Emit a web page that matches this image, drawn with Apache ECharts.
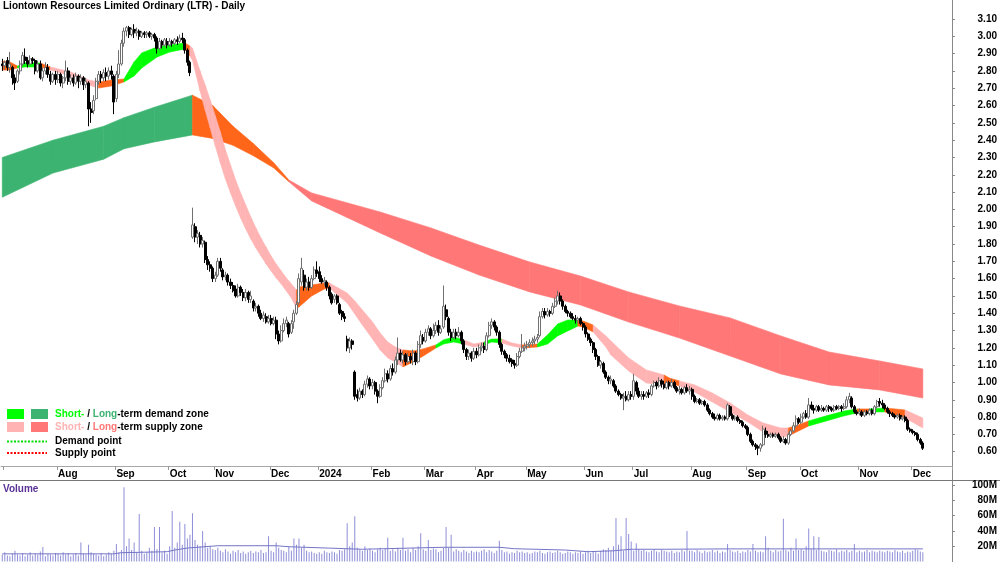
<!DOCTYPE html>
<html><head><meta charset="utf-8">
<script src="https://cdn.jsdelivr.net/npm/echarts/dist/echarts.min.js"></script>
<style>html,body{margin:0;padding:0;background:#fff}#c{width:1000px;height:562px}</style>
</head><body><div id="c"></div>
<script>
// ---------- data ----------
const monthKeys   = ['2023-06','2023-07','2023-08','2023-09','2023-10','2023-11','2023-12','2024-01','2024-02','2024-03','2024-04','2024-05','2024-06','2024-07','2024-08','2024-09','2024-10','2024-11','2024-12'];
const monthLabels = ['Jun','Jul','Aug','Sep','Oct','Nov','Dec','2024','Feb','Mar','Apr','May','Jun','Jul','Aug','Sep','Oct','Nov','Dec'];
const monthTradingDays = [1,21,23,21,18,22,19,21,21,20,20,23,19,23,22,21,23,21,5];
const emptyTrailingDays = 11;
const priceTicks = {min:0.5, max:3.2, step:0.1};
const volumeTicks = {min:0, max:100, step:20};

// [open, close, low, high]
const ohlc = [
// Jun 2023
[2.84,2.83,2.80,2.87],
// Jul 2023
[2.83,2.85,2.81,2.86],[2.86,2.82,2.80,2.88],[2.82,2.84,2.79,2.91],[2.82,2.76,2.72,2.83],[2.76,2.73,2.69,2.78],
[2.74,2.80,2.73,2.81],[2.80,2.84,2.78,2.86],[2.84,2.89,2.83,2.91],[2.88,2.86,2.84,2.93],[2.86,2.84,2.82,2.88],
[2.84,2.87,2.83,2.89],[2.87,2.86,2.84,2.88],[2.86,2.80,2.78,2.87],[2.80,2.84,2.79,2.86],[2.84,2.76,2.75,2.86],
[2.76,2.80,2.74,2.82],[2.80,2.82,2.78,2.85],[2.82,2.78,2.76,2.84],[2.78,2.74,2.72,2.80],[2.74,2.78,2.73,2.79],
[2.78,2.75,2.72,2.80],
// Aug 2023
[2.75,2.78,2.73,2.80],[2.78,2.73,2.71,2.79],[2.73,2.76,2.70,2.77],[2.76,2.80,2.74,2.86],[2.80,2.74,2.72,2.82],
[2.74,2.76,2.72,2.78],[2.76,2.73,2.71,2.78],[2.73,2.77,2.72,2.79],[2.77,2.74,2.70,2.78],[2.74,2.76,2.72,2.78],
[2.76,2.72,2.69,2.77],[2.72,2.74,2.70,2.76],[2.73,2.58,2.48,2.74],[2.58,2.56,2.50,2.62],[2.57,2.63,2.55,2.66],
[2.64,2.74,2.63,2.76],[2.74,2.78,2.72,2.80],[2.78,2.76,2.73,2.80],[2.76,2.79,2.74,2.81],[2.79,2.77,2.74,2.82],
[2.77,2.80,2.75,2.82],[2.80,2.78,2.75,2.83],[2.77,2.62,2.55,2.78],
// Sep 2023
[2.64,2.78,2.62,2.80],[2.78,2.84,2.76,2.92],[2.84,2.96,2.83,2.98],[2.96,3.03,2.94,3.05],[3.03,3.05,3.00,3.06],
[3.05,3.01,2.99,3.06],[3.01,3.04,3.00,3.05],[3.04,3.02,2.99,3.07],[3.02,3.03,3.00,3.05],[3.03,3.00,2.98,3.04],
[3.00,3.02,2.99,3.03],[3.02,3.01,2.99,3.03],[3.01,3.02,2.99,3.03],[3.02,3.00,2.99,3.03],[3.00,3.01,2.98,3.02],
[3.01,2.99,2.97,3.02],[2.99,2.93,2.90,3.00],[2.93,2.97,2.92,2.99],[2.97,2.95,2.93,2.98],[2.95,2.98,2.94,2.99],
[2.97,2.95,2.93,2.99],
// Oct 2023
[2.95,2.97,2.94,2.99],[2.97,2.96,2.94,2.98],[2.96,2.98,2.95,2.99],[2.98,2.97,2.95,3.00],[2.97,2.99,2.96,3.01],
[2.99,2.98,2.96,3.02],[2.98,2.92,2.90,2.99],[2.92,2.85,2.83,2.93],[2.85,2.79,2.77,2.86],
[1.84,1.91,1.83,2.01],[1.90,1.84,1.81,1.92],[1.84,1.86,1.80,1.88],[1.85,1.80,1.78,1.87],[1.80,1.82,1.78,1.84],
[1.81,1.71,1.69,1.82],[1.71,1.68,1.65,1.73],[1.68,1.66,1.64,1.70],[1.66,1.60,1.58,1.67],
// Nov 2023
[1.60,1.62,1.58,1.64],[1.62,1.70,1.61,1.72],[1.70,1.66,1.64,1.72],[1.65,1.61,1.59,1.66],[1.61,1.62,1.59,1.64],
[1.62,1.58,1.56,1.63],[1.58,1.56,1.54,1.60],[1.56,1.53,1.52,1.58],[1.54,1.50,1.49,1.56],[1.50,1.55,1.49,1.57],
[1.55,1.52,1.50,1.56],[1.52,1.49,1.47,1.54],[1.49,1.52,1.47,1.54],[1.52,1.48,1.46,1.53],[1.48,1.50,1.46,1.53],
[1.47,1.43,1.41,1.48],[1.43,1.44,1.41,1.46],[1.44,1.40,1.38,1.45],[1.40,1.37,1.36,1.42],[1.37,1.39,1.35,1.41],
[1.38,1.35,1.34,1.40],[1.35,1.37,1.34,1.39],
// Dec 2023
[1.37,1.34,1.33,1.39],[1.34,1.36,1.33,1.38],[1.36,1.28,1.25,1.38],[1.28,1.24,1.22,1.30],[1.24,1.30,1.23,1.33],
[1.30,1.34,1.29,1.37],[1.34,1.36,1.32,1.38],[1.34,1.28,1.26,1.35],[1.29,1.34,1.28,1.36],[1.35,1.40,1.31,1.42],
[1.40,1.45,1.39,1.47],[1.46,1.60,1.45,1.63],[1.58,1.66,1.56,1.72],[1.62,1.55,1.53,1.65],[1.55,1.58,1.53,1.60],
[1.58,1.55,1.53,1.61],[1.55,1.60,1.54,1.62],[1.60,1.65,1.59,1.67],[1.65,1.63,1.61,1.70],
// Jan 2024
[1.64,1.60,1.58,1.67],[1.60,1.58,1.57,1.62],[1.58,1.59,1.56,1.61],[1.58,1.55,1.53,1.59],[1.55,1.50,1.48,1.56],
[1.51,1.46,1.45,1.52],[1.48,1.50,1.46,1.51],[1.50,1.46,1.45,1.51],[1.45,1.40,1.39,1.46],[1.41,1.38,1.36,1.42],
[1.38,1.37,1.35,1.40],[1.25,1.20,1.18,1.27],[1.20,1.24,1.17,1.26],[1.24,1.22,1.19,1.25],[1.06,0.92,0.90,1.07],
[0.93,0.91,0.89,0.96],[0.91,0.95,0.90,0.97],[0.95,0.93,0.91,0.96],[0.93,0.99,0.92,1.01],[0.99,1.02,0.97,1.04],
[1.02,0.98,0.96,1.03],
// Feb 2024
[0.98,1.00,0.96,1.02],[1.00,0.95,0.93,1.01],[0.95,0.92,0.88,0.96],[0.92,0.97,0.91,0.99],[0.97,1.01,0.96,1.03],
[1.01,1.05,1.00,1.08],[1.05,1.02,1.00,1.07],[1.02,1.08,1.01,1.10],[1.08,1.06,1.04,1.11],[1.06,1.13,1.05,1.15],
[1.13,1.17,1.10,1.26],[1.17,1.13,1.12,1.19],[1.13,1.16,1.11,1.18],[1.16,1.12,1.10,1.17],[1.12,1.15,1.11,1.17],
[1.15,1.13,1.11,1.17],[1.12,1.17,1.10,1.19],[1.17,1.12,1.10,1.18],[1.12,1.22,1.11,1.24],[1.22,1.27,1.20,1.30],
[1.26,1.24,1.22,1.28],
// Mar 2024
[1.24,1.29,1.23,1.31],[1.29,1.31,1.27,1.33],[1.31,1.27,1.25,1.32],[1.27,1.30,1.26,1.34],[1.30,1.33,1.28,1.35],
[1.33,1.29,1.27,1.36],[1.29,1.31,1.28,1.33],[1.32,1.44,1.31,1.56],[1.42,1.38,1.36,1.45],[1.37,1.29,1.27,1.38],
[1.29,1.26,1.24,1.31],[1.26,1.29,1.25,1.31],[1.29,1.27,1.25,1.31],[1.27,1.29,1.26,1.32],[1.29,1.24,1.22,1.30],
[1.24,1.19,1.17,1.25],[1.19,1.15,1.13,1.20],[1.15,1.17,1.13,1.19],[1.17,1.14,1.12,1.18],[1.14,1.18,1.13,1.20],
// Apr 2024
[1.18,1.16,1.14,1.20],[1.16,1.20,1.15,1.22],[1.20,1.21,1.18,1.23],[1.21,1.19,1.17,1.23],[1.19,1.27,1.18,1.29],
[1.27,1.33,1.26,1.35],[1.33,1.35,1.31,1.37],[1.35,1.32,1.30,1.36],[1.32,1.29,1.27,1.33],[1.29,1.22,1.20,1.30],
[1.22,1.18,1.16,1.23],[1.18,1.16,1.14,1.19],[1.16,1.14,1.12,1.17],[1.14,1.12,1.11,1.16],[1.13,1.11,1.09,1.14],
[1.11,1.10,1.08,1.13],[1.10,1.15,1.09,1.17],[1.15,1.18,1.14,1.20],[1.18,1.20,1.17,1.28],[1.20,1.21,1.18,1.23],
// May 2024
[1.21,1.22,1.19,1.24],[1.22,1.23,1.20,1.25],[1.23,1.24,1.21,1.26],[1.24,1.25,1.22,1.27],[1.25,1.26,1.23,1.28],
[1.27,1.38,1.26,1.41],[1.38,1.41,1.37,1.43],[1.41,1.39,1.37,1.43],[1.39,1.41,1.38,1.43],[1.41,1.40,1.38,1.42],
[1.40,1.44,1.39,1.46],[1.44,1.47,1.43,1.49],[1.47,1.50,1.45,1.53],[1.50,1.47,1.45,1.52],[1.47,1.44,1.42,1.48],
[1.44,1.41,1.40,1.45],[1.41,1.40,1.38,1.42],[1.40,1.38,1.37,1.41],[1.38,1.37,1.36,1.40],[1.37,1.36,1.34,1.39],
[1.36,1.37,1.34,1.38],[1.37,1.34,1.33,1.38],[1.34,1.32,1.30,1.35],
// Jun 2024
[1.32,1.28,1.26,1.33],[1.28,1.25,1.24,1.29],[1.25,1.23,1.21,1.26],[1.23,1.19,1.17,1.24],[1.19,1.15,1.13,1.20],
[1.15,1.10,1.09,1.16],[1.10,1.12,1.08,1.13],[1.11,1.06,1.05,1.12],[1.06,1.03,1.02,1.07],[1.03,1.01,0.99,1.04],
[1.01,1.02,0.99,1.04],[1.01,0.98,0.97,1.02],[0.98,0.95,0.94,0.99],[0.95,0.93,0.92,0.96],[0.93,0.91,0.90,0.94],
[0.91,0.92,0.84,0.94],[0.92,0.90,0.89,0.95],[0.90,0.93,0.89,0.95],[0.93,0.92,0.90,0.95],
// Jul 2024
[0.92,1.01,0.90,1.05],[1.00,0.95,0.93,1.01],[0.95,0.92,0.91,0.97],[0.92,0.93,0.90,0.95],[0.93,0.92,0.90,0.95],
[0.92,0.94,0.91,0.95],[0.94,0.93,0.91,0.96],[0.93,0.98,0.92,0.99],[0.98,1.00,0.97,1.01],[1.00,0.98,0.96,1.01],
[0.98,1.01,0.97,1.03],[1.01,0.99,0.97,1.02],[0.99,0.97,0.96,1.01],[0.97,1.00,0.96,1.01],[1.00,0.98,0.96,1.01],
[0.98,1.00,0.97,1.02],[1.00,0.97,0.96,1.01],[0.97,0.95,0.94,0.98],[0.95,0.96,0.93,0.98],[0.96,0.94,0.93,0.97],
[0.94,0.97,0.93,0.98],[0.97,0.95,0.94,0.99],[0.95,0.96,0.93,0.98],
// Aug 2024
[0.96,0.92,0.90,0.97],[0.92,0.89,0.88,0.93],[0.89,0.90,0.88,0.91],[0.90,0.88,0.87,0.91],[0.88,0.89,0.87,0.90],
[0.89,0.87,0.86,0.90],[0.87,0.84,0.83,0.88],[0.84,0.82,0.81,0.85],[0.82,0.80,0.79,0.83],[0.80,0.79,0.78,0.82],
[0.79,0.81,0.78,0.82],[0.81,0.79,0.78,0.82],[0.79,0.80,0.78,0.81],[0.80,0.79,0.78,0.81],[0.79,0.87,0.78,0.88],
[0.86,0.81,0.80,0.87],[0.81,0.79,0.78,0.82],[0.79,0.80,0.78,0.81],[0.80,0.78,0.77,0.81],[0.78,0.77,0.76,0.79],
[0.77,0.75,0.74,0.78],[0.75,0.74,0.73,0.76],
// Sep 2024
[0.74,0.70,0.69,0.75],[0.70,0.66,0.65,0.71],[0.66,0.64,0.63,0.67],[0.64,0.63,0.61,0.65],[0.63,0.62,0.58,0.64],
[0.62,0.64,0.60,0.65],[0.64,0.73,0.63,0.75],[0.72,0.70,0.68,0.74],[0.70,0.69,0.68,0.72],[0.69,0.70,0.68,0.71],
[0.70,0.69,0.68,0.71],[0.69,0.70,0.68,0.71],[0.70,0.68,0.67,0.71],[0.68,0.66,0.65,0.69],[0.66,0.67,0.65,0.69],
[0.67,0.65,0.64,0.68],[0.65,0.70,0.64,0.71],[0.70,0.72,0.69,0.73],[0.72,0.75,0.71,0.77],[0.75,0.79,0.74,0.81],
[0.79,0.77,0.76,0.80],
// Oct 2024
[0.77,0.80,0.76,0.82],[0.80,0.82,0.79,0.83],[0.82,0.80,0.79,0.84],[0.80,0.87,0.79,0.91],[0.87,0.85,0.84,0.89],
[0.85,0.84,0.82,0.87],[0.84,0.86,0.83,0.87],[0.86,0.84,0.83,0.87],[0.84,0.85,0.83,0.87],[0.85,0.84,0.83,0.86],
[0.84,0.86,0.83,0.87],[0.86,0.85,0.83,0.87],[0.85,0.84,0.83,0.86],[0.84,0.86,0.83,0.87],[0.86,0.85,0.84,0.87],
[0.85,0.86,0.84,0.87],[0.86,0.85,0.83,0.87],[0.85,0.86,0.84,0.88],[0.86,0.90,0.85,0.92],[0.90,0.92,0.88,0.94],
[0.91,0.86,0.85,0.92],[0.86,0.83,0.82,0.87],[0.83,0.82,0.81,0.84],
// Nov 2024
[0.82,0.83,0.81,0.85],[0.83,0.81,0.80,0.84],[0.81,0.83,0.80,0.84],[0.83,0.82,0.81,0.84],[0.82,0.84,0.81,0.85],
[0.84,0.82,0.81,0.85],[0.82,0.86,0.81,0.87],[0.86,0.89,0.85,0.90],[0.89,0.88,0.86,0.91],[0.88,0.87,0.85,0.90],
[0.87,0.85,0.84,0.88],[0.85,0.83,0.82,0.86],[0.83,0.82,0.80,0.84],[0.82,0.81,0.80,0.83],[0.81,0.80,0.79,0.82],
[0.80,0.81,0.79,0.82],[0.81,0.79,0.78,0.82],[0.79,0.80,0.78,0.81],[0.80,0.78,0.77,0.81],[0.78,0.73,0.72,0.79],
[0.73,0.72,0.71,0.74],
// Dec 2024
[0.72,0.71,0.70,0.73],[0.71,0.70,0.69,0.72],[0.70,0.67,0.66,0.71],[0.67,0.65,0.64,0.68],[0.65,0.62,0.61,0.66]
];

// daily volume, millions of shares
const volumeM = [
9,
12,8,7,10,14,9,8,11,7,9,12,8,10,9,13,19,7,10,9,8,11,
10,8,12,9,11,7,9,11,8,25,10,9,22,12,10,9,8,11,7,9,12,10,14,
23,12,15,97,20,30,15,25,12,62,14,10,12,18,14,45,16,45,12,14,10,
20,66,18,25,52,22,49,30,35,63,28,22,20,40,25,18,20,16,
15,18,14,12,16,13,10,14,12,15,11,13,10,12,14,11,13,12,15,11,12,33,
14,12,25,18,15,14,12,20,14,30,22,30,18,22,14,12,13,11,10,
12,10,14,12,11,13,12,10,15,14,16,50,20,25,59,18,16,14,20,15,17,
14,12,16,18,15,17,31,14,16,13,18,15,31,14,16,12,18,15,20,37,16,
14,28,15,17,16,12,14,18,45,18,35,13,16,14,12,15,13,11,14,12,
13,12,14,16,12,15,13,11,14,27,15,12,13,10,12,11,14,12,13,11,
12,10,11,13,12,14,11,10,12,13,11,12,14,12,10,11,13,12,10,12,11,13,10,
12,14,11,13,12,10,14,16,15,18,14,20,57,22,33,14,57,36,26,
14,24,16,14,15,13,12,14,16,13,12,15,14,13,12,14,11,13,12,15,13,40,14,
14,12,15,13,11,14,12,13,15,12,14,11,13,12,23,15,13,12,14,11,13,12,
15,13,23,14,12,13,12,33,18,14,12,15,13,14,56,15,13,18,14,30,15,
16,14,20,43,16,33,15,32,14,13,12,15,14,13,16,12,14,13,15,12,14,23,12,
14,12,13,15,12,14,13,12,14,13,12,14,13,12,15,13,12,14,11,13,12,
14,16,15,13,12
];
// volume average line: [day index, millions]
const volumeAvg = [[0,10],[44,10],[47,11.5],[65,12.8],[68,15],[73,17.6],[85,20.6],[108,20.6],[113,19.3],[129,17.5],[142,16],[174,18.6],[196,18.6],[202,16.7],[222,15],[231,12.8],[241,14],[248,16],[261,16],[287,16.5],[363,16.5]];

// long-term zone band (day index, upper, lower); zone per segment
const longIdx   = [0,20,40,48,60,75,83,91,99,107,113,122,149,169,188,208,228,247,267,287,307,326,346,363];
const longUpper = [2.30,2.40,2.48,2.53,2.59,2.66,2.60,2.48,2.38,2.27,2.17,2.095,1.985,1.893,1.794,1.696,1.615,1.523,1.442,1.373,1.269,1.176,1.124,1.078];
const longLower = [2.07,2.21,2.29,2.35,2.39,2.43,2.41,2.37,2.31,2.24,2.16,2.049,1.864,1.731,1.621,1.523,1.448,1.349,1.257,1.153,1.049,0.986,0.957,0.910];
const longZone  = ['LD','LD','LD','LD','LD','N','N','N','N','N','LS','LS','LS','LS','LS','LS','LS','LS','LS','LS','LS','LS','LS'];

// short-term zone band
const shortIdx   = [0,3,6,9,15,19,27,34,38,43,48,52,55,61,66,72,74,
  75,78,80,82,84,86,88,90,92,94,96,98,100,102,104,106,108,110,112,114,116,
  117,122,127,129,136,139,142,146,149,152,155,158,162,166,171,174,178,182,186,190,193,197,201,205,211,215,219,223,227,229,233,238,240,247,254,261,263,267,273,280,287,294,300,307,310,314,318,325,332,337,342,348,356,363];
const shortUpper = [2.857,2.852,2.828,2.846,2.846,2.823,2.794,2.748,2.736,2.748,2.753,2.852,2.904,2.938,2.950,2.961,2.944,
  2.932,2.800,2.719,2.632,2.540,2.447,2.343,2.257,2.170,2.095,2.025,1.956,1.893,1.835,1.783,1.731,1.685,1.644,1.604,1.569,1.534,
  1.552,1.563,1.575,1.575,1.517,1.471,1.419,1.350,1.286,1.234,1.205,1.188,1.182,1.194,1.217,1.246,1.263,1.246,1.222,1.234,1.251,1.251,1.228,1.217,1.222,1.274,1.338,1.361,1.361,1.355,1.332,1.269,1.240,1.142,1.072,1.043,1.026,1.009,0.986,0.939,0.882,0.812,0.766,0.737,0.737,0.755,0.778,0.807,0.835,0.847,0.847,0.853,0.841,0.795];
const shortLower = [2.805,2.805,2.817,2.823,2.823,2.805,2.771,2.719,2.701,2.713,2.736,2.771,2.817,2.880,2.909,2.927,2.886,
  2.863,2.684,2.574,2.470,2.366,2.268,2.176,2.095,2.020,1.950,1.887,1.829,1.777,1.731,1.685,1.644,1.604,1.569,1.529,1.488,1.430,
  1.436,1.500,1.540,1.546,1.459,1.396,1.332,1.251,1.188,1.142,1.118,1.090,1.118,1.153,1.199,1.222,1.234,1.222,1.205,1.217,1.234,1.228,1.211,1.199,1.205,1.222,1.269,1.298,1.326,1.321,1.292,1.205,1.159,1.066,0.997,0.986,0.997,0.980,0.945,0.887,0.830,0.772,0.714,0.685,0.691,0.720,0.749,0.778,0.807,0.824,0.830,0.830,0.795,0.737];
const shortZone  = ['N','N','SD','SD','N','SS','SS','SS','N','N','SD','SD','SD','SD','SD','N','SS',
  'SS','SS','SS','SS','SS','SS','SS','SS','SS','SS','SS','SS','SS','SS','SS','SS','SS','SS','SS','SS','N',
  'N','N','N','SS','SS','SS','SS','SS','SS','SS','SS','N','N','N','SD','SD','SD','SS','SS','SD','SD','SS','SS','N','SD','SD','SD','SD','N','N','SS','SS','SS','SS','SS','N','N','SS','SS','SS','SS','SS','SS','SS','N','N','SD','SD','SD','N','SD','N','SS'];

const zoneColors = {SD:'#00ff00', LD:'#3cb371', SS:'#ffb3b3', LS:'#ff7777', N:'#ff661a'};

// ---------- build ----------
const categories = [];
const monthStartLabel = {};
monthKeys.forEach((key, k) => {
  monthStartLabel[categories.length] = monthLabels[k];
  for (let d = 1; d <= monthTradingDays[k]; d++) categories.push(key + '-' + d);
});
for (let d = 1; d <= emptyTrailingDays; d++) categories.push('pad-' + d);

const FONT = '"Liberation Sans", Arial, sans-serif';

function bandSeries(name, idx, up, lo, zone, z) {
  const data = [];
  for (let k = 0; k < idx.length - 1; k++) data.push([idx[k], up[k], lo[k], idx[k + 1], up[k + 1], lo[k + 1], k]);
  return {
    type: 'custom', name, xAxisIndex: 0, yAxisIndex: 0, silent: true, z,
    encode: { x: [0, 3], y: [1, 2, 4, 5] },
    renderItem(params, api) {
      const k = api.value(6);
      const a = api.coord([api.value(0), api.value(1)]);
      const b = api.coord([api.value(3), api.value(4)]);
      const c = api.coord([api.value(3), api.value(5)]);
      const d = api.coord([api.value(0), api.value(2)]);
      const col = zoneColors[zone[k]];
      return { type: 'polygon', shape: { points: [a, b, c, d] }, style: { fill: col, stroke: col, lineWidth: 0.6 } };
    },
    data
  };
}

const chart = echarts.init(document.getElementById('c'), null, { renderer: 'canvas' });
chart.setOption({
  animation: false,
  backgroundColor: '#ffffff',
  grid: [
    { left: 1, width: 951, top: 1.69, height: 467.31 },
    { left: 1, width: 951, top: 485, height: 76.5 }
  ],
  xAxis: [
    { type: 'category', gridIndex: 0, data: categories, boundaryGap: true, offset: -3,
      axisLine: { show: true, lineStyle: { color: '#a8a8a8', width: 1 } },
      axisTick: { show: true, length: 4, lineStyle: { color: '#999' }, interval: (i) => (i in monthStartLabel) && i > 0 },
      axisLabel: { show: true, interval: (i) => (i in monthStartLabel) && i > 1, formatter: (v, i) => monthStartLabel[i] || '',
        align: 'left', margin: 3, fontSize: 10, fontWeight: 'bold', color: '#000', fontFamily: FONT },
      splitLine: { show: false } },
    { type: 'category', gridIndex: 1, data: categories, boundaryGap: true,
      axisLine: { show: false }, axisTick: { show: false }, axisLabel: { show: false }, splitLine: { show: false } }
  ],
  yAxis: [
    { type: 'value', gridIndex: 0, position: 'right', min: priceTicks.min, max: priceTicks.max, interval: priceTicks.step,
      axisLine: { show: false }, axisTick: { show: true, length: 3, lineStyle: { color: '#888' } },
      axisLabel: { show: true, showMinLabel: false, showMaxLabel: false, align: 'right', margin: 45,
        formatter: (v) => v.toFixed(2), fontSize: 10, fontWeight: 'bold', color: '#000', fontFamily: FONT },
      splitLine: { show: false } },
    { type: 'value', gridIndex: 1, position: 'right', min: volumeTicks.min, max: volumeTicks.max, interval: volumeTicks.step,
      axisLine: { show: false }, axisTick: { show: true, length: 3, lineStyle: { color: '#888' } },
      axisLabel: { show: true, showMinLabel: false, align: 'right', margin: 45,
        formatter: (v) => v + 'M', fontSize: 10, fontWeight: 'bold', color: '#000', fontFamily: FONT },
      splitLine: { show: false } }
  ],
  series: [
    bandSeries('long', longIdx, longUpper, longLower, longZone, 1),
    bandSeries('short', shortIdx, shortUpper, shortLower, shortZone, 2),
    { type: 'candlestick', xAxisIndex: 0, yAxisIndex: 0, data: ohlc, barWidth: 2.5, z: 3, silent: true,
      itemStyle: { color: '#ffffff', color0: '#000000', borderColor: '#707070', borderColor0: '#000000', borderWidth: 1 } },
    { type: 'bar', xAxisIndex: 1, yAxisIndex: 1, data: volumeM, barWidth: 1, silent: true,
      itemStyle: { color: '#8e8ed8' } },
    { type: 'line', xAxisIndex: 1, yAxisIndex: 1, data: volumeAvg, symbol: 'none', silent: true,
      lineStyle: { color: '#7474c8', width: 1 }, z: 4 }
  ],
  graphic: [
    { type: 'text', x: 3, y: 1, style: { text: 'Liontown Resources Limited Ordinary (LTR) - Daily', font: 'bold 10px ' + FONT, fill: '#000' } },
    { type: 'line', shape: { x1: 952.5, y1: 0, x2: 952.5, y2: 562 }, style: { stroke: '#888', lineWidth: 1 } },
    { type: 'line', shape: { x1: 0, y1: 480.5, x2: 1000, y2: 480.5 }, style: { stroke: '#777', lineWidth: 1 } },
    { type: 'text', x: 3, y: 489, style: { text: 'Volume', font: 'bold 10px ' + FONT, fill: '#5a3296', verticalAlign: 'middle' } },
    // legend
    { type: 'rect', shape: { x: 7, y: 409, width: 17, height: 10 }, style: { fill: zoneColors.SD } },
    { type: 'rect', shape: { x: 31, y: 409, width: 17, height: 10 }, style: { fill: zoneColors.LD } },
    { type: 'rect', shape: { x: 7, y: 422, width: 17, height: 10 }, style: { fill: zoneColors.SS } },
    { type: 'rect', shape: { x: 31, y: 422, width: 17, height: 10 }, style: { fill: zoneColors.LS } },
    { type: 'text', x: 55, y: 414, style: { text: '{a|Short-}{k| / }{b|Long}{k|-term demand zone}', verticalAlign: 'middle', font: 'bold 10px ' + FONT,
        rich: { a: { fill: zoneColors.SD, color: zoneColors.SD, font: 'bold 10px ' + FONT }, b: { fill: zoneColors.LD, color: zoneColors.LD, font: 'bold 10px ' + FONT }, k: { fill: '#000', color: '#000', font: 'bold 10px ' + FONT } } } },
    { type: 'text', x: 55, y: 427, style: { text: '{a|Short-}{k| / }{b|Long}{k|-term supply zone}', verticalAlign: 'middle', font: 'bold 10px ' + FONT,
        rich: { a: { fill: zoneColors.SS, color: zoneColors.SS, font: 'bold 10px ' + FONT }, b: { fill: zoneColors.LS, color: zoneColors.LS, font: 'bold 10px ' + FONT }, k: { fill: '#000', color: '#000', font: 'bold 10px ' + FONT } } } },
    { type: 'line', shape: { x1: 7, y1: 441.5, x2: 47, y2: 441.5 }, style: { stroke: '#00dd00', lineWidth: 2, lineDash: [2, 1.5] } },
    { type: 'line', shape: { x1: 7, y1: 453, x2: 47, y2: 453 }, style: { stroke: '#ff0000', lineWidth: 2, lineDash: [2, 1.5] } },
    { type: 'text', x: 55, y: 441, style: { text: 'Demand point', verticalAlign: 'middle', font: 'bold 10px ' + FONT, fill: '#000' } },
    { type: 'text', x: 55, y: 453, style: { text: 'Supply point', verticalAlign: 'middle', font: 'bold 10px ' + FONT, fill: '#000' } }
  ]
});
</script>
</body></html>
